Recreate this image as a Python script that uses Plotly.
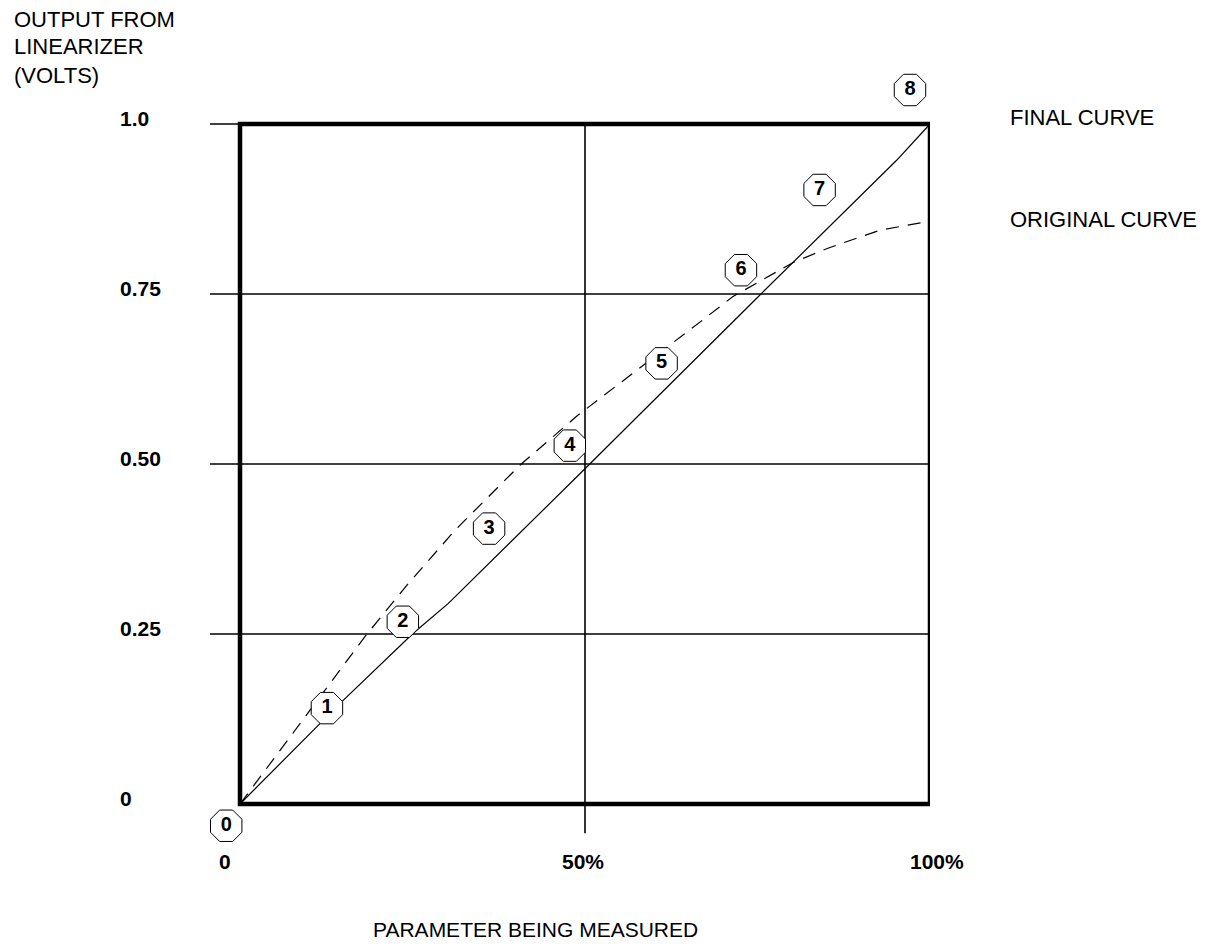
import plotly.graph_objects as go

# ---------------- Data ----------------
final_x = [0, 0.145, 0.251, 0.302, 0.493, 0.751, 0.952, 1.0]
final_y = [0, 0.148, 0.251, 0.295, 0.486, 0.746, 0.947, 1.0]

orig_x = [0, 0.077, 0.181, 0.242, 0.312, 0.406, 0.490, 0.667, 0.714, 0.801, 0.851, 0.928, 1.0]
orig_y = [0, 0.104, 0.246, 0.322, 0.403, 0.4985, 0.572, 0.709, 0.746, 0.796, 0.817, 0.844, 0.857]

point_labels = ["0", "1", "2", "3", "4", "5", "6", "7", "8"]
point_x = [-0.020, 0.126, 0.236, 0.361, 0.478, 0.611, 0.726, 0.840, 0.971]
point_y = [-0.032, 0.141, 0.268, 0.405, 0.527, 0.648, 0.785, 0.903, 1.050]

y_tick_vals = [1.0, 0.75, 0.50, 0.25, 0]
y_tick_text = ["1.0", "0.75", "0.50", "0.25", "0"]
x_tick_vals = [0, 0.5, 1.0]
x_tick_text = ["0", "50%", "100%"]

h_grid = [0.25, 0.5, 0.75, 1.0]
v_grid = [0.5]

y_title_lines = ["OUTPUT FROM", "LINEARIZER", "(VOLTS)"]
x_title = "PARAMETER BEING MEASURED"
curve_names = ["FINAL CURVE", "ORIGINAL CURVE"]
curve_label_y = [1.0, 0.85]

# ---------------- Layout geometry (figure pixels) ----------------
FONT = "Liberation Sans, Arial, sans-serif"
W, H = 1201, 936
L, R, T, B = 180, 279, 40, 90
X0_PX, X1_PX = 232, 922      # pixel of x=0 and x=1
Y0_PX, Y1_PX = 796, 116      # pixel of y=0 and y=1
sx = (X1_PX - X0_PX)
sy = (Y0_PX - Y1_PX)
x_range = [(L - X0_PX) / sx, (W - R - X0_PX) / sx]
y_range = [(Y0_PX - (H - B)) / sy, (Y0_PX - T) / sy]
pw, ph = W - L - R, H - T - B


def px_to_paper_x(px):
    return (px - L) / pw


def py_to_paper_y(py):
    return (H - B - py) / ph


fig = go.Figure()

fig.add_trace(go.Scatter(x=final_x, y=final_y, mode="lines",
                         line=dict(color="black", width=1.2), showlegend=False))
fig.add_trace(go.Scatter(x=orig_x, y=orig_y, mode="lines",
                         line=dict(color="black", width=1.2, dash="13px,9px"),
                         showlegend=False))
fig.add_trace(go.Scatter(x=point_x, y=point_y, mode="markers+text",
                         text=point_labels, textposition="middle center",
                         textfont=dict(family=FONT, size=20, color="black", weight="bold"),
                         marker=dict(symbol="octagon", size=34, color="white",
                                     line=dict(color="black", width=1)),
                         showlegend=False))

shapes = []
for g in h_grid:
    shapes.append(dict(type="line", xref="x", yref="y", x0=-0.0435, x1=1, y0=g, y1=g,
                       line=dict(color="black", width=1.6), layer="below"))
for g in v_grid:
    shapes.append(dict(type="line", xref="x", yref="y", x0=g, x1=g, y0=-0.043, y1=1,
                       line=dict(color="black", width=1.6), layer="below"))
shapes.append(dict(type="rect", xref="x", yref="y", x0=0, x1=1, y0=0, y1=1,
                   line=dict(color="black", width=4.5), layer="below"))

annotations = []
for v, t in zip(y_tick_vals, y_tick_text):
    annotations.append(dict(x=px_to_paper_x(110), xref="paper", y=v, yref="y", text=t,
                            showarrow=False, xanchor="left", yanchor="middle", yshift=6,
                            font=dict(family=FONT, size=21, color="black", weight="bold")))
x_label_shift = [-15, -2, 7]
for v, t, s in zip(x_tick_vals, x_tick_text, x_label_shift):
    annotations.append(dict(x=v, xref="x", y=0, yref="y", text=t, showarrow=False,
                            xanchor="center", yanchor="middle", yshift=-57, xshift=s,
                            font=dict(family=FONT, size=21, color="black", weight="bold")))

for i, t in enumerate(y_title_lines):
    annotations.append(dict(x=px_to_paper_x(4), y=py_to_paper_y(11 + 28 * i),
                            xref="paper", yref="paper", text=t, showarrow=False,
                            xanchor="left", yanchor="middle",
                            font=dict(family=FONT, size=22, color="black")))

for name, yv in zip(curve_names, curve_label_y):
    annotations.append(dict(x=px_to_paper_x(1000), xref="paper", y=yv, yref="y",
                            yshift=7, text=name, showarrow=False, xanchor="left",
                            yanchor="middle",
                            font=dict(family=FONT, size=22, color="black")))

annotations.append(dict(x=px_to_paper_x(527), xref="paper", y=py_to_paper_y(921),
                        yref="paper", text=x_title, showarrow=False, xanchor="center",
                        yanchor="middle", font=dict(family=FONT, size=21, color="black")))

fig.update_layout(
    width=W, height=H, autosize=False,
    margin=dict(l=L, r=R, t=T, b=B, pad=0),
    paper_bgcolor="white", plot_bgcolor="white",
    shapes=shapes, annotations=annotations,
    xaxis=dict(range=x_range, showgrid=False, zeroline=False, showticklabels=False,
               ticks="", showline=False, fixedrange=True),
    yaxis=dict(range=y_range, showgrid=False, zeroline=False, showticklabels=False,
               ticks="", showline=False, fixedrange=True),
)

fig.write_html("out.html")
